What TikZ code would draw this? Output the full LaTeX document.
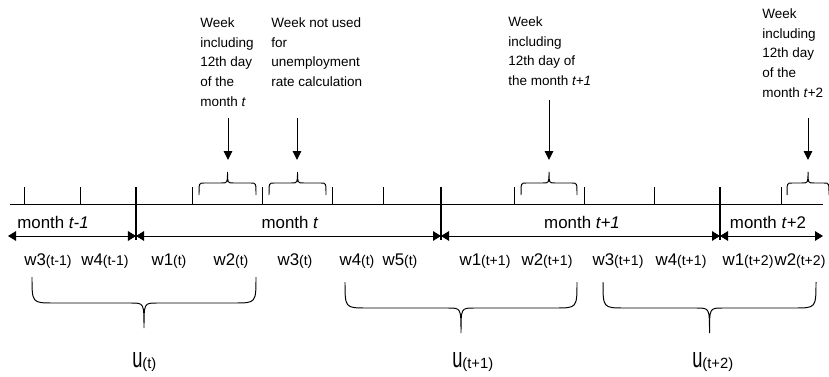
\documentclass[tikz,border=0pt]{standalone}
\usepackage{fontspec}
\setmainfont{Liberation Sans}
\usepackage{graphicx}
\usepackage{tikz}
\usetikzlibrary{arrows.meta}
\tikzset{
 lfs axis/.style={line width=.6pt},
 lfs tick/.style={line width=.6pt},
 lfs divider/.style={line width=2pt},
 lfs span/.style={line width=.7pt,
   {Triangle[length=.2cm,width=.24cm]}-{Triangle[length=.2cm,width=.24cm]}},
 lfs pointer/.style={line width=.7pt,-{Triangle[length=.22cm,width=.21cm]}},
 lfs brace/.style={line width=.7pt},
 lfs note/.style={align=left,inner sep=0pt,anchor=north west,
                  font=\fontsize{9.6}{14.2}\selectfont},
 lfs month/.style={inner sep=0pt,anchor=base,font=\fontsize{12}{14}\selectfont},
 lfs week/.style={inner sep=0pt,anchor=base,font=\fontsize{12}{14}\selectfont},
 lfs rate/.style={inner sep=0pt,anchor=base west,font=\fontsize{13}{15}\selectfont}
}
\newcommand{\wksub}[1]{{\fontsize{10}{12}\selectfont(#1)}}
\newcommand{\ratesub}[1]{\raisebox{-1.4pt}{\fontsize{10.5}{12}\selectfont(#1)}}
% left x, right x, end y, shoulder y, tip y, end radius, cusp radius
\newcommand{\wkbrace}[7]{%
 \draw[lfs brace] (#1,#3) .. controls (#1,#4) .. (#1+#6,#4)
   -- ({(#1+#2)/2-#7},#4) .. controls ({(#1+#2)/2},#4) .. ({(#1+#2)/2},#5)
   .. controls ({(#1+#2)/2},#4) .. ({(#1+#2)/2+#7},#4)
   -- (#2-#6,#4) .. controls (#2,#4) .. (#2,#3);}

\begin{document}
\begin{tikzpicture}[x=.025cm,y=.025cm]
 \useasboundingbox (0,0) rectangle (829,376);

 \node[lfs note] (nA) at (200,359) {Week\\including\\12th day\\of the\\month \textit{t}};
 \node[lfs note] (nB) at (271,359) {Week not used\\for\\unemployment\\rate calculation};
 \node[lfs note] (nC) at (508,360) {Week\\including\\12th day of\\the month \textit{t+1}};
 \node[lfs note] (nD) at (762,368) {Week\\including\\12th day\\of the\\month \textit{t}+2};

 \coordinate (pA) at (228,258); \coordinate (qA) at (228,216);
 \coordinate (pB) at (297,258); \coordinate (qB) at (297,216);
 \coordinate (pC) at (549,276); \coordinate (qC) at (549,216);
 \coordinate (pD) at (808,258); \coordinate (qD) at (808,216);
 \draw[lfs pointer] (pA)--(qA);
 \draw[lfs pointer] (pB)--(qB);
 \draw[lfs pointer] (pC)--(qC);
 \draw[lfs pointer] (pD)--(qD);

 \wkbrace{199}{256}{181}{193}{204}{5}{6}
 \wkbrace{269}{326}{181}{193}{204}{5}{6}
 \wkbrace{521}{577}{181}{193}{204}{5}{6}
 \wkbrace{787}{829}{181}{193}{204}{5}{6}

 \draw[lfs axis] (10,172)--(823,172);
 \foreach \x in {24,80,192,262,332,383,514,584,654,781}
   \draw[lfs tick] (\x,172)--(\x,189);
 \foreach \x in {136,441,720}
   \draw[lfs divider] (\x,189)--(\x,136);

 \node[lfs month] (mA) at (53,148) {month \textit{t-1}};
 \node[lfs month] (mB) at (290,148) {month \textit{t}};
 \node[lfs month] (mC) at (582,148) {month \textit{t+1}};
 \node[lfs month] (mD) at (768,148) {month \textit{t}+2};

 \coordinate (s0) at (8,140);
 \coordinate (s1) at (136,140);
 \coordinate (s2) at (441,140);
 \coordinate (s3) at (720,140);
 \coordinate (s4) at (823,140);
 \draw[lfs span] (s0)--(s1);
 \draw[lfs span] (s1)--(s2);
 \draw[lfs span] (s2)--(s3);
 \draw[lfs span] (s3)--(s4);

 \foreach \px/\wn/\ws [count=\i] in {48/3/t-1,105/4/t-1,169/1/t,231/2/t,295/3/t,
     357/4/t,400/5/t,485/1/t+1,547/2/t+1,618/3/t+1,681/4/t+1,748/1/t+2,800/2/t+2}
   \node[lfs week] (wk\i) at (\px,111) {w\wn\wksub{\ws}};

 \wkbrace{32}{256}{99}{73}{48}{22}{13}
 \wkbrace{345}{577}{94}{68}{43}{22}{13}
 \wkbrace{603}{816}{94}{68}{43}{22}{13}

 \node[lfs rate] (uA) at (132,9) {\scalebox{1}[1.55]{u}\ratesub{t}};
 \node[lfs rate] (uB) at (452,9) {\scalebox{1}[1.55]{u}\ratesub{t+1}};
 \node[lfs rate] (uC) at (692,9) {\scalebox{1}[1.55]{u}\ratesub{t+2}};
\end{tikzpicture}
\end{document}
